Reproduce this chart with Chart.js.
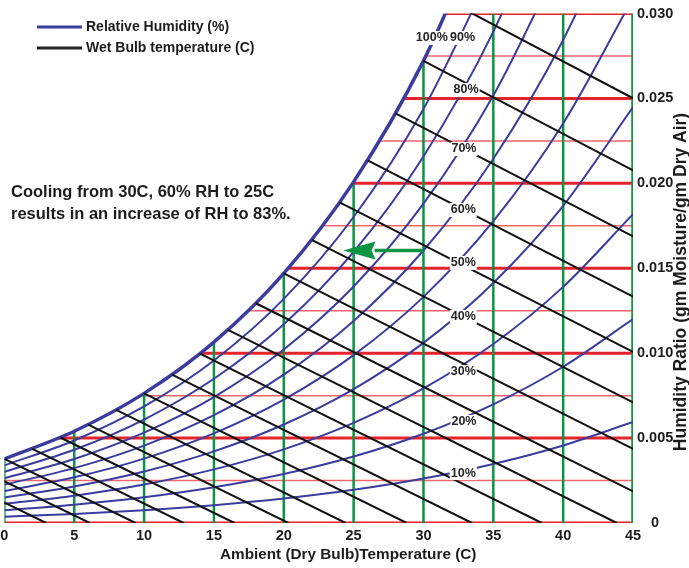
<!DOCTYPE html>
<html>
<head>
<meta charset="utf-8">
<script src="https://cdn.jsdelivr.net/npm/chart.js@4.4.1/dist/chart.umd.min.js"></script>
<style>
  body { margin: 0; background: #fff; }
  #wrap { width: 689px; height: 568px; }
</style>
</head>
<body>
<div id="wrap"><canvas id="myChart"></canvas></div>
<script>
// dry bulb temperatures (C) where the RH curves were read
const dryBulb = [0, 5, 10, 15, 20, 25, 30, 35, 40, 45];

// humidity ratio of every RH curve at those temperatures (last value runs past the top)
const rh100 = [0.003775, 0.005403, 0.007632, 0.010649, 0.014699, 0.020086, 0.027210, 0.036587];
const rh90 = [0.003395, 0.004858, 0.006861, 0.009568, 0.013198, 0.018019, 0.024382, 0.032736];
const rh80 = [0.003016, 0.004315, 0.006091, 0.008491, 0.011704, 0.015966, 0.021579, 0.028930, 0.038512];
const rh70 = [0.002637, 0.003772, 0.005323, 0.007416, 0.010217, 0.013925, 0.018800, 0.025167, 0.033439];
const rh60 = [0.002259, 0.003231, 0.004557, 0.006346, 0.008737, 0.011898, 0.016045, 0.021448, 0.028443, 0.037469];
const rh50 = [0.001882, 0.002690, 0.003793, 0.005279, 0.007264, 0.009884, 0.013314, 0.017771, 0.023524, 0.030914];
const rh40 = [0.001505, 0.002150, 0.003031, 0.004216, 0.005798, 0.007882, 0.010605, 0.014136, 0.018678, 0.024488];
const rh30 = [0.001128, 0.001611, 0.002270, 0.003157, 0.004338, 0.005893, 0.007920, 0.010542, 0.013904, 0.018187];
const rh20 = [0.000751, 0.001073, 0.001511, 0.002101, 0.002885, 0.003916, 0.005258, 0.006989, 0.009201, 0.012008];
const rh10 = [0.000375, 0.000536, 0.000755, 0.001049, 0.001439, 0.001952, 0.002618, 0.003475, 0.004567, 0.005946];

// RH labels and where they sit on the curves
const rhLabels = ['100%', '90%', '80%', '70%', '60%', '50%', '40%', '30%', '20%', '10%'];
const rhLabelT = [30.6, 32.8, 33.05, 32.9, 32.85, 32.85, 32.85, 32.85, 32.9, 32.85];
const rhLabelW = [0.02856, 0.02856, 0.02550, 0.02202, 0.01843, 0.01531, 0.01213, 0.00889, 0.00595, 0.00294];

// wet bulb lines: start on saturation, end on the bottom or right edge
const wetBulb = [-4, -2, 0, 2, 4, 6, 8, 10, 12, 14, 16, 18, 20, 22, 24, 26, 28, 30, 32];
const wetBulbStartW = [0.002804, 0.003257, 0.003775, 0.004364, 0.005034, 0.005795, 0.006657, 0.007632, 0.008732, 0.009973,
  0.011369, 0.012938, 0.014699, 0.016673, 0.018884, 0.021352, 0.024120, 0.027210, 0.030650];
const wetBulbEndT = [2.99, 6.11, 9.39, 12.83, 16.47, 20.33, 24.43, 28.80, 33.47, 38.47, 43.84, 45, 45, 45, 45, 45, 45, 45, 45];
const wetBulbEndW = [0, 0, 0, 0, 0, 0, 0, 0, 0, 0, 0, 0.00186, 0.00437, 0.00710, 0.01008, 0.01333, 0.01688, 0.02077, 0.02501];

// horizontal humidity ratio lines, starting at the saturation curve
const ratioLines = [0, 0.0025, 0.005, 0.0075, 0.010, 0.0125, 0.015, 0.0175, 0.020, 0.0225, 0.025, 0.0275, 0.030];
const ratioStartT = [0, 0, 3.9, 9.74, 14.04, 17.46, 20.32, 22.78, 24.93, 26.85, 28.6, 30.18, 31.64];

// vertical temperature lines, ending at the saturation curve
const tempLines = [0, 5, 10, 15, 20, 25, 30, 35, 40, 45];
const tempTopW = [0.003775, 0.005403, 0.007632, 0.010649, 0.014699, 0.020086, 0.027210, 0.030, 0.030, 0.030];

// cooling arrow: 30C, 60% RH to 25C
const arrowT = [30, 26.5, 24.25];
const arrowW = 0.016045;

const FONT = '"Liberation Sans", Arial, Helvetica, sans-serif';
const BLUE = '#3c3c9e';
const RED = '#e6222a';
const GREEN = '#0b9442';

const rhCurves = [rh100, rh90, rh80, rh70, rh60, rh50, rh40, rh30, rh20, rh10];

const datasets = [];

ratioLines.forEach((w, i) => {
  const major = i % 2 === 0;
  datasets.push({
    data: [{x: ratioStartT[i], y: w}, {x: 45, y: w}],
    borderColor: major ? RED : '#f0646c',
    borderWidth: major ? 3 : 1.5,
    order: 5
  });
});

tempLines.forEach((t, i) => {
  datasets.push({
    data: [{x: t, y: 0}, {x: t, y: tempTopW[i]}],
    borderColor: GREEN,
    borderWidth: t === 45 ? 3.5 : 2.5,
    order: 4
  });
});

rhCurves.forEach((vals, i) => {
  datasets.push({
    data: vals.map((v, j) => ({x: dryBulb[j], y: v})),
    borderColor: BLUE,
    borderWidth: i === 0 ? 3.5 : 2,
    cubicInterpolationMode: 'monotone',
    clip: 0,
    order: 3
  });
});

wetBulb.forEach((t, i) => {
  datasets.push({
    data: [{x: t, y: wetBulbStartW[i]}, {x: wetBulbEndT[i], y: wetBulbEndW[i]}],
    borderColor: '#111111',
    borderWidth: 2,
    clip: 0,
    order: 2
  });
});

datasets.push({
  data: [{x: arrowT[0], y: arrowW}, {x: arrowT[1], y: arrowW}],
  borderColor: GREEN,
  borderWidth: 3.5,
  order: 1
});

const overlay = {
  id: 'overlay',
  afterDatasetsDraw(chart) {
    const {ctx, scales: {x, y}} = chart;
    ctx.save();

    // arrow head
    const tip = x.getPixelForValue(arrowT[2]);
    const base = x.getPixelForValue(arrowT[1]);
    const ay = y.getPixelForValue(arrowW);
    ctx.fillStyle = GREEN;
    ctx.beginPath();
    ctx.moveTo(tip, ay);
    ctx.lineTo(base + 1, ay - 9);
    ctx.lineTo(base - 3, ay);
    ctx.lineTo(base + 1, ay + 9);
    ctx.closePath();
    ctx.fill();

    // RH labels
    ctx.font = 'bold 12.5px ' + FONT;
    ctx.textAlign = 'center';
    ctx.textBaseline = 'middle';
    rhLabels.forEach((t, i) => {
      const px = x.getPixelForValue(rhLabelT[i]);
      const py = y.getPixelForValue(rhLabelW[i]);
      const w = ctx.measureText(t).width;
      ctx.fillStyle = '#ffffff';
      ctx.fillRect(px - w / 2 - 1, py - 7, w + 2, 14);
      ctx.fillStyle = '#262626';
      ctx.fillText(t, px, py);
    });
    ctx.restore();
  },
  afterDraw(chart) {
    const ctx = chart.ctx;
    ctx.save();
    ctx.fillStyle = '#1c1c1c';
    ctx.textBaseline = 'middle';

    // legend
    ctx.lineWidth = 3;
    ctx.strokeStyle = BLUE;
    ctx.beginPath(); ctx.moveTo(37, 27); ctx.lineTo(82, 27); ctx.stroke();
    ctx.strokeStyle = '#222222';
    ctx.beginPath(); ctx.moveTo(37, 48); ctx.lineTo(82, 48); ctx.stroke();
    ctx.font = 'bold 14px ' + FONT;
    ctx.textAlign = 'left';
    ctx.fillText('Relative Humidity (%)', 86, 27);
    ctx.fillText('Wet Bulb temperature (C)', 86, 48);

    // note
    ctx.font = 'bold 16.5px ' + FONT;
    ctx.fillText('Cooling from 30C, 60% RH to 25C', 11, 192);
    ctx.fillText('results in an increase of RH to 83%.', 11, 214);

    // axis titles
    ctx.font = 'bold 15.3px ' + FONT;
    ctx.fillText('Ambient (Dry Bulb)Temperature (C)', 220, 555);

    ctx.translate(681, 282);
    ctx.rotate(-Math.PI / 2);
    ctx.textAlign = 'center';
    ctx.font = 'bold 17.5px ' + FONT;
    ctx.fillText('Humidity Ratio (gm Moisture/gm Dry Air)', 0, 0);
    ctx.restore();
  }
};

const tickFont = {family: FONT, size: 14.5, weight: 'bold'};

new Chart(document.getElementById('myChart'), {
  type: 'line',
  data: {datasets},
  options: {
    responsive: true,
    maintainAspectRatio: false,
    animation: false,
    events: [],
    layout: {padding: {left: 0, top: 13.5, right: 0, bottom: 0}},
    elements: {
      point: {radius: 0},
      line: {capBezierPoints: false, borderCapStyle: 'butt'}
    },
    plugins: {
      legend: {display: false},
      tooltip: {enabled: false}
    },
    scales: {
      x: {
        type: 'linear',
        min: 0,
        max: 45,
        grid: {display: false, drawTicks: false},
        border: {display: false},
        ticks: {stepSize: 5, font: tickFont, color: '#1c1c1c', padding: 4, maxRotation: 0},
        afterFit(s) {
          s.height = 45;
          s.paddingLeft = 4.4;
          s.paddingRight = 0;
        }
      },
      y: {
        type: 'linear',
        position: 'right',
        min: 0,
        max: 0.03,
        grid: {display: false, drawTicks: false},
        border: {display: false},
        ticks: {
          stepSize: 0.005,
          font: tickFont,
          color: '#1c1c1c',
          padding: 4,
          crossAlign: 'center',
          callback: v => (v === 0 ? '0' : v.toFixed(3))
        },
        afterFit(s) { s.width = 56; }
      }
    }
  },
  plugins: [overlay]
});
</script>
</body>
</html>
